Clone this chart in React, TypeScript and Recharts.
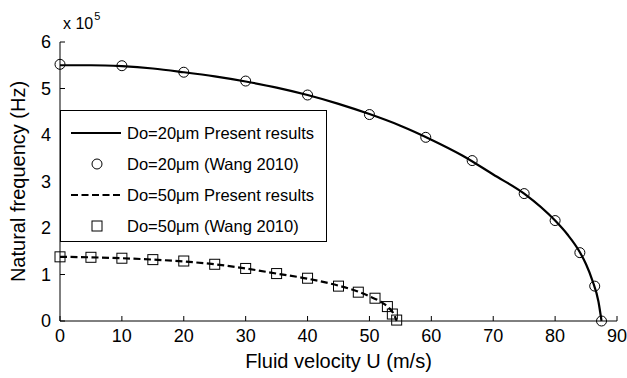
import { ComposedChart, Line, Scatter, XAxis, YAxis } from 'recharts'

// Do=20um, present results (curve)
const u20Line = [0, 5, 10, 15, 20, 25, 30, 35, 40, 45, 50, 55, 60, 65, 70, 75, 80, 82, 84, 85, 86, 87, 87.5]
const f20Line = [5.5, 5.5, 5.48, 5.43, 5.35, 5.26, 5.15, 5.02, 4.86, 4.67, 4.45, 4.2, 3.9, 3.56, 3.15, 2.74, 2.16, 1.86, 1.48, 1.22, 0.88, 0.42, 0]

// Do=20um, Wang 2010 (circles)
const u20Pts = [0, 10, 20, 30, 40, 50, 59.1, 66.6, 75, 80, 84, 86.4, 87.5]
const f20Pts = [5.52, 5.49, 5.35, 5.16, 4.86, 4.44, 3.95, 3.45, 2.74, 2.16, 1.47, 0.75, 0]

// Do=50um, present results (dashed curve)
const u50Line = [0, 5, 10, 15, 20, 25, 30, 35, 40, 45, 48, 50, 52, 53, 54, 54.4]
const f50Line = [1.38, 1.37, 1.35, 1.32, 1.28, 1.22, 1.13, 1.02, 0.91, 0.76, 0.64, 0.53, 0.4, 0.3, 0.13, 0]

// Do=50um, Wang 2010 (squares)
const u50Pts = [0, 5, 10, 15, 20, 25, 30, 35, 40, 45, 48.2, 50.9, 52.9, 53.7, 54.4]
const f50Pts = [1.38, 1.37, 1.35, 1.32, 1.29, 1.22, 1.13, 1.02, 0.92, 0.75, 0.62, 0.49, 0.31, 0.15, 0.02]

const xTicks = [0, 10, 20, 30, 40, 50, 60, 70, 80, 90]
const yTicks = [0, 1, 2, 3, 4, 5, 6]

const zip = (xs: number[], ys: number[]) => xs.map((x, i) => ({ x, y: ys[i] }))

const FONT = '"Liberation Sans", Arial, sans-serif'
const tickStyle = { fontSize: 18, fill: '#000', fontFamily: FONT }
const noLabel = () => <g />

const Circle = ({ cx, cy }: any) => <circle cx={cx} cy={cy} r={5} fill="none" stroke="#000" strokeWidth={1} />
const Square = ({ cx, cy }: any) => <rect x={cx - 5} y={cy - 5} width={10} height={10} fill="none" stroke="#000" strokeWidth={1} />

const legendRows = [
  { kind: 'solid', label: 'Do=20μm Present results' },
  { kind: 'circle', label: 'Do=20μm (Wang 2010)' },
  { kind: 'dashed', label: 'Do=50μm Present results' },
  { kind: 'square', label: 'Do=50μm (Wang 2010)' },
]

function LegendBox() {
  return (
    <div
      style={{
        position: 'absolute', left: 60, top: 110, width: 265, height: 130,
        border: '1.5px solid #000', background: '#fff', fontFamily: FONT, fontSize: 16.5, color: '#000',
      }}
    >
      {legendRows.map((r, i) => (
        <div key={i} style={{ position: 'absolute', left: 0, top: 10 + i * 31, height: 24, display: 'flex', alignItems: 'center' }}>
          <svg width={66} height={24}>
            {r.kind === 'solid' && <line x1={10} x2={60} y1={12} y2={12} stroke="#000" strokeWidth={2.2} />}
            {r.kind === 'dashed' && <line x1={10} x2={60} y1={12} y2={12} stroke="#000" strokeWidth={2.2} strokeDasharray="7 3.5" />}
            {r.kind === 'circle' && <circle cx={36} cy={12} r={5} fill="none" stroke="#000" />}
            {r.kind === 'square' && <rect x={31} y={7} width={10} height={10} fill="none" stroke="#000" />}
          </svg>
          <span style={{ whiteSpace: 'nowrap' }}>{r.label}</span>
        </div>
      ))}
    </div>
  )
}

export default function App() {
  return (
    <div style={{ position: 'relative', width: 627, height: 378 }}>
      <style>{'body{margin:0}'}</style>
      <ComposedChart width={627} height={378} margin={{ top: 42, right: 10, bottom: 0, left: 0 }}>
        <XAxis
          type="number"
          dataKey="x"
          domain={[0, 90]}
          ticks={xTicks}
          height={57}
          stroke="#000"
          tickSize={-5}
          tickMargin={13}
          tick={tickStyle}
          label={{ value: 'Fluid velocity U (m/s)', position: 'insideBottom', offset: 10, style: { fontSize: 20, fill: '#000', fontFamily: FONT } }}
        />
        <XAxis xAxisId="top" orientation="top" type="number" domain={[0, 90]} ticks={xTicks} mirror height={0} tick={noLabel} stroke="#000" tickSize={5} />
        <YAxis
          type="number"
          domain={[0, 6]}
          ticks={yTicks}
          width={60}
          stroke="#000"
          tickSize={-5}
          tickMargin={14}
          tick={tickStyle}
          label={{ value: 'Natural frequency (Hz)', angle: -90, position: 'center', dx: -12, style: { fontSize: 20, fill: '#000', fontFamily: FONT, textAnchor: 'middle' } }}
        />
        <YAxis yAxisId="right" orientation="right" type="number" domain={[0, 6]} ticks={yTicks} mirror width={0} tick={noLabel} stroke="#000" tickSize={5} />
        <Line data={zip(u20Line, f20Line)} dataKey="y" type="monotone" stroke="#000" strokeWidth={2.2} dot={false} isAnimationActive={false} />
        <Line data={zip(u50Line, f50Line)} dataKey="y" type="monotone" stroke="#000" strokeWidth={2.2} strokeDasharray="7 3.5" dot={false} isAnimationActive={false} />
        <Scatter data={zip(u20Pts, f20Pts)} dataKey="y" shape={Circle} isAnimationActive={false} />
        <Scatter data={zip(u50Pts, f50Pts)} dataKey="y" shape={Square} isAnimationActive={false} />
      </ComposedChart>
      <div style={{ position: 'absolute', left: 63, top: 15, fontFamily: FONT, fontSize: 16, lineHeight: '18px', color: '#000', whiteSpace: 'nowrap' }}>
        x 10<span style={{ fontSize: 11, position: 'relative', top: -9, marginLeft: 1 }}>5</span>
      </div>
      <LegendBox />
    </div>
  )
}
